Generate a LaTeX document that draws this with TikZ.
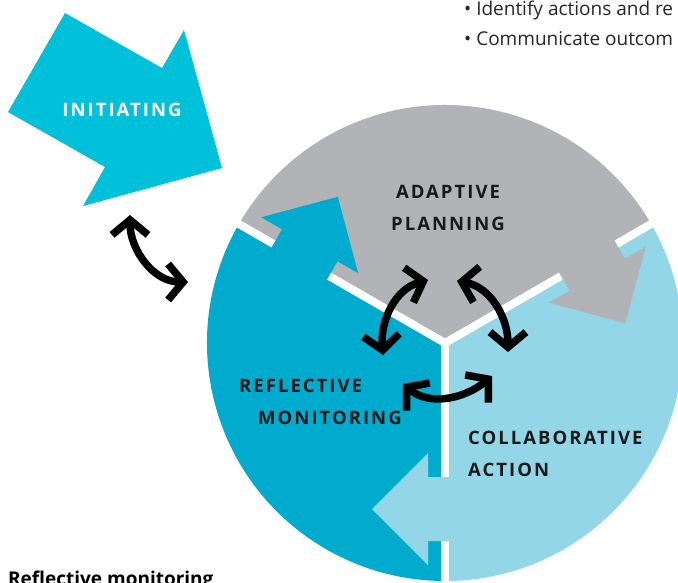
\documentclass[tikz,border=0pt]{standalone}
\usepackage{fontspec}
\setmainfont{Open Sans}
\newfontfamily\labelfont{Open Sans}[LetterSpace=11]
\usepackage{tikz}
\usetikzlibrary{arrows.meta}
\usepackage{xcolor}
\definecolor{planGray}{HTML}{B1B3B6}
\definecolor{monBlue}{HTML}{00ABCE}
\definecolor{actBlue}{HTML}{93D6E7}
\definecolor{initCyan}{HTML}{00C0DA}

\begin{document}
\begin{tikzpicture}[x=1pt,y=1pt]

\def\radius{238}
\tikzset{
pics/cyclearrow/.style = {
background code = {
		\fill (134,10) -- (134,-17) -- (110,-17) -- (166,-73) -- (222,-17) -- (198,-17) -- (198,10) -- cycle;
}
}
}

\tikzset{
phase/.style={font=\labelfont\bfseries\fontsize{18.5}{18.5}\selectfont,text=black!90,inner sep=0pt,anchor=west},
twoway/.style={line width=7.5pt,arrows={Straight Barb[length=15pt,width=36pt]-Straight Barb[length=15pt,width=36pt]}}
}

\fill[white] (0,0) rectangle (678,-582);
\useasboundingbox (0,0) rectangle (678,-582);

\coordinate (c) at (445,-343);

% the three sectors
\fill[planGray] (c) -- +(30:\radius) arc[start angle=30,end angle=150,radius=\radius] -- cycle;
\fill[monBlue] (c) -- +(150:\radius) arc[start angle=150,end angle=270,radius=\radius] -- cycle;
\fill[actBlue] (c) -- +(270:\radius) arc[start angle=270,end angle=390,radius=\radius] -- cycle;

\foreach \a in {30,150,270}
	\draw[white,line width=8pt] (c) -- +(\a:\radius+5);
\fill[white] (c) circle (4);

\pic(to_plan)[fill=monBlue,rotate=150] at (c) {cyclearrow};
\pic(to_act)[fill=planGray,rotate=30] at (c) {cyclearrow};
\pic(to_mon)[fill=actBlue,rotate=270] at (c) {cyclearrow};

% initiating
\fill[initCyan] (65,-13) -- (162,-68) -- (184,-30) -- (222,-168) -- (83,-206) -- (105,-167) -- (8,-112) -- cycle;
\node (init) at (122,-110) [phase,anchor=center,text=white] {INITIATING};

\node (plan_a) at (448,-192) [phase,anchor=center] {ADAPTIVE};
\node (plan_b) at (448,-224) [phase,anchor=center] {PLANNING};
\node (mon_a) at (239,-386) [phase] {REFLECTIVE};
\node (mon_b) at (258,-418) [phase] {MONITORING};
\node (act_a) at (468,-438) [phase] {COLLABORATIVE};
\node (act_b) at (468,-470) [phase] {ACTION};

\node (goal_a) at (464,-15) [anchor=base west,inner sep=0pt,font=\fontsize{19}{22}\selectfont,text=black!85] {\textbullet\ Identify actions and re};
\node (goal_b) at (464,-45) [anchor=base west,inner sep=0pt,font=\fontsize{19}{22}\selectfont,text=black!85] {\textbullet\ Communicate outcom};
\node (head) at (8,-585) [anchor=base west,inner sep=0pt,font=\bfseries\fontsize{19}{22}\selectfont] {Reflective monitoring};

% two-way links
\coordinate (i_tip) at (130,-215);
\coordinate (i_end) at (188,-282);
\coordinate (m_tip) at (383,-355);
\coordinate (p_tip_l) at (428,-280);
\coordinate (p_tip_r) at (457,-281);
\coordinate (a_tip) at (508,-352);
\coordinate (m_tip_b) at (403,-384);
\coordinate (a_tip_b) at (492,-376);

\draw[twoway] (i_tip) to[out=-90,in=180] (i_end);
\draw[twoway] (m_tip) to[out=95,in=195] (p_tip_l);
\draw[twoway] (p_tip_r) to[out=-10,in=90] (a_tip);
\draw[twoway] (m_tip_b) to[out=-40,in=-140] (a_tip_b);

\end{tikzpicture}
\end{document}
